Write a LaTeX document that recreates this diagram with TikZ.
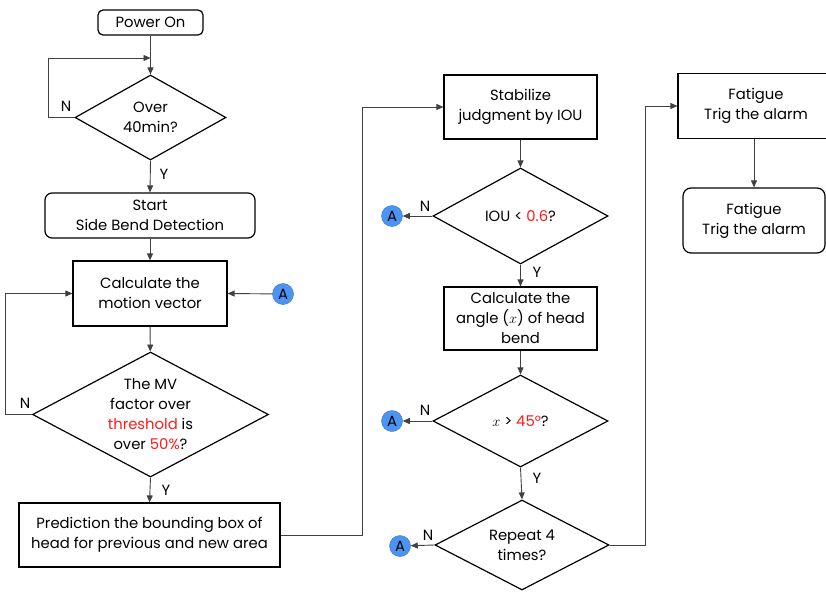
\documentclass[tikz,border=0pt]{standalone}
\usepackage{fontspec}
\setmainfont{Poppins}
\usetikzlibrary{shapes.geometric,arrows.meta}
\definecolor{ablue}{HTML}{4C94F2}
\definecolor{hred}{HTML}{FF1A1A}
\definecolor{cgray}{HTML}{404040}
\begin{document}
\begin{tikzpicture}[x=1pt,y=-1pt,
  font=\fontsize{14.8}{20}\selectfont,
  box/.style={draw=black,line width=1.2pt,align=center,inner sep=0pt},
  rbox/.style={box,rounded corners=6pt},
  dia/.style={diamond,draw=black,line width=1.2pt,align=center,inner sep=0pt},
  conn/.style={draw=cgray,line width=0.9pt,-{Triangle[length=7pt,width=6pt]}},
  plain/.style={draw=cgray,line width=0.9pt},
  lab/.style={inner sep=0pt},
  acirc/.style={circle,fill=ablue,draw=ablue!85!black,line width=0.5pt,minimum size=21pt,inner sep=0pt}]
\useasboundingbox (0,0) rectangle (826,591);
% left column
\node[rbox,rounded corners=5pt,minimum width=105pt,minimum height=25pt] (pon) at (150.5,22.5) {Power On};
\node[dia,minimum width=151pt,minimum height=85pt,aspect=1.78] (d1) at (150.5,117.5) {Over\\40min?};
\node[rbox,rounded corners=7pt,minimum width=210pt,minimum height=45pt] (start) at (150,215.5) {Start\\Side Bend Detection};
\node[box,minimum width=154pt,minimum height=65pt] (mv) at (150,293.5) {Calculate the\\motion vector};
\node[dia,minimum width=236pt,minimum height=125pt,aspect=1.9] (d2) at (150.5,414.5) {The MV\\factor over\\\textcolor{hred}{threshold} is\\over \textcolor{hred}{50\%}?};
\node[box,minimum width=261pt,minimum height=64pt] (pred) at (149.5,535) {Prediction the bounding box of\\head for previous and new area};
\node[acirc] (a1) at (283,294) {A};
\coordinate (j1) at (150.5,58);
\draw[conn] (pon) -- (d1);
\draw[conn] (d1.west) -- ++(-26,0) |- (j1);
\node[lab] (n1) at (66,106) {N};
\draw[conn] (d1.south) -- (start.north);
\node[lab] (y1) at (164,174) {Y};
\draw[conn] (start) -- (mv);
\draw[conn] (a1) -- (mv.east);
\draw[conn] (mv) -- (d2);
\draw[conn] (d2.west) -- ++(-26,0) |- (mv.west);
\node[lab] (n2) at (25,403) {N};
\draw[conn] (d2.south) -- (pred.north);
\node[lab] (y2) at (166,490) {Y};
% middle column
\node[box,minimum width=153pt,minimum height=64pt] (stab) at (520.5,107) {Stabilize\\judgment by IOU};
\node[dia,minimum width=175pt,minimum height=96pt,aspect=1.8] (d3) at (520.5,216) {IOU < \textcolor{hred}{0.6}?};
\node[box,minimum width=153pt,minimum height=63pt] (ang) at (520.5,318.5) {Calculate the\\angle ($x$) of head\\bend};
\node[dia,minimum width=175pt,minimum height=92pt,aspect=1.9] (d4) at (520.5,421) {$x$ > \textcolor{hred}{45°}?};
\node[dia,minimum width=174pt,minimum height=90pt,aspect=1.9] (d5) at (522,545) {Repeat 4\\times?};
\node[acirc] (a2) at (392,216) {A};
\node[acirc] (a3) at (392,421) {A};
\node[acirc] (a4) at (400,546) {A};
\draw[conn] (pred.east) -- ++(82,0) |- (stab.west);
\draw[conn] (stab) -- (d3);
\draw[conn] (d3.west) -- (a2);
\node[lab] (n3) at (425,206) {N};
\draw[conn] (d3.south) -- (ang.north);
\node[lab] (y3) at (537,272) {Y};
\draw[conn] (ang) -- (d4);
\draw[conn] (d4.west) -- (a3);
\node[lab] (n4) at (425,410) {N};
\draw[conn] (d4.south) -- (d5.north);
\node[lab] (y4) at (537,478) {Y};
\draw[conn] (d5.west) -- (a4);
\node[lab] (n5) at (428,535) {N};
% right column
\node[box,minimum width=156pt,minimum height=65pt] (fat1) at (756,106) {Fatigue\\Trig the alarm};
\node[rbox,rounded corners=8pt,minimum width=142pt,minimum height=65pt] (fat2) at (754,220.5) {Fatigue\\Trig the alarm};
\draw[conn] (d5.east) -- (645,545) |- (fat1.west);
\draw[conn] (fat1.south -| fat2.north) -- (fat2.north);
\end{tikzpicture}
\end{document}
